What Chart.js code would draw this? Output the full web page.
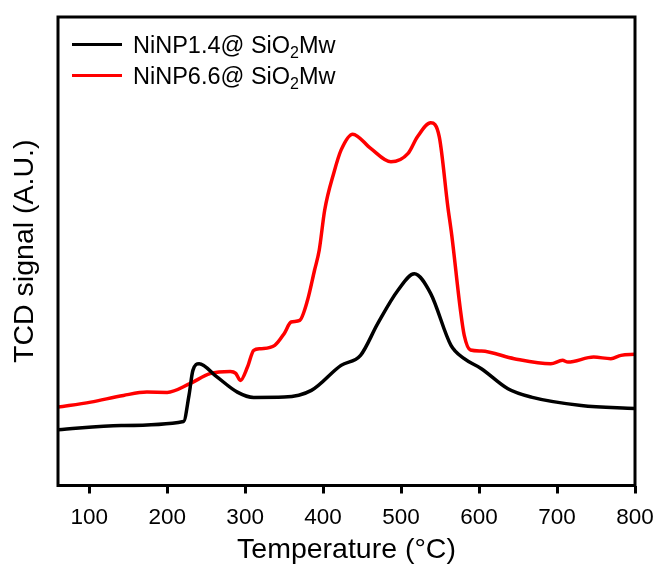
<!DOCTYPE html>
<html>
<head>
<meta charset="utf-8">
<script src="https://cdn.jsdelivr.net/npm/chart.js@4/dist/chart.umd.min.js"></script>
<style>
  html, body { margin: 0; padding: 0; background: #fff; }
  #wrap { position: relative; width: 656px; height: 564px; }
  #c { position: absolute; left: 0; top: 0; }
  .leg { position: absolute; font-family: "Liberation Sans", Arial, sans-serif; font-size: 23.5px; color: #000; white-space: nowrap; line-height: 1; }
  .leg sub { font-size: 16px; vertical-align: -5px; line-height: 0; }
  .sw { position: absolute; height: 3px; width: 50px; }
</style>
</head>
<body>
<div id="wrap">
  <canvas id="c" width="656" height="564"></canvas>
  <div class="sw" style="left:72px; top:43px; background:#000;"></div>
  <div class="leg" style="left:133px; top:34px;">NiNP1.4@ SiO<sub>2</sub>Mw</div>
  <div class="sw" style="left:72px; top:74px; background:#ff0000;"></div>
  <div class="leg" style="left:133px; top:65px;">NiNP6.6@ SiO<sub>2</sub>Mw</div>
</div>
<script>
// Series 1: NiNP1.4@SiO2Mw (black)
const tempA = [60, 141, 221, 228, 233, 241, 263, 290, 311, 350, 385, 423, 448, 470, 496, 517, 538, 564, 581, 603, 637, 667, 731, 800];
const signalA = [55.7, 60, 64, 90, 115, 121.7, 109, 93.3, 88, 88.3, 95, 120, 130, 161.7, 195, 211.5, 191.7, 140, 126.7, 116.7, 96.7, 88.3, 80, 77];

// Series 2: NiNP6.6@SiO2Mw (red)
const tempB = [60, 102, 144, 174, 200, 229, 255, 281, 288, 294, 303, 311, 320, 338, 350, 359, 370, 380, 389, 395, 402, 414, 423, 438, 461, 487, 509, 521, 538, 549, 560, 565, 576, 581, 589, 603, 645, 692, 707, 714, 747, 769, 782, 800];
const signalB = [78.3, 83.3, 90, 93.3, 93, 101.7, 111.7, 114, 112, 105, 118.3, 135, 136.7, 140, 151.7, 163.3, 165, 185, 215, 235, 275, 313, 335, 351, 336.7, 323.3, 331.7, 348.3, 362.3, 348.3, 278.3, 250, 176, 150, 135.3, 134.3, 126.7, 121.7, 125, 123.3, 128.3, 126.7, 130, 131];

const xTicks = [100, 200, 300, 400, 500, 600, 700, 800];
const labels = ['NiNP1.4@ SiO2Mw', 'NiNP6.6@ SiO2Mw'];

const toPts = (xs, ys) => xs.map((x, i) => ({ x: x, y: ys[i] }));

const frame = {
  id: 'frame',
  afterDraw(chart) {
    const a = chart.chartArea, ctx = chart.ctx;
    ctx.save();
    ctx.strokeStyle = '#000';
    ctx.lineWidth = 3;
    ctx.strokeRect(a.left, a.top, a.right - a.left, a.bottom - a.top);
    ctx.restore();
  }
};

const font = '"Liberation Sans", Arial, sans-serif';

new Chart(document.getElementById('c'), {
  type: 'scatter',
  data: {
    datasets: [
      { label: labels[0], data: toPts(tempA, signalA), showLine: true, borderColor: '#000000', borderWidth: 3.5, pointRadius: 0, cubicInterpolationMode: 'monotone' },
      { label: labels[1], data: toPts(tempB, signalB), showLine: true, borderColor: '#ff0000', borderWidth: 3.5, pointRadius: 0, cubicInterpolationMode: 'monotone' }
    ]
  },
  options: {
    responsive: false,
    animation: false,
    layout: { padding: { left: 4, right: 0, top: 17, bottom: 0 } },
    plugins: { legend: { display: false }, tooltip: { enabled: false } },
    scales: {
      x: {
        type: 'linear', min: 60, max: 800,
        afterBuildTicks: (s) => { s.ticks = xTicks.map(v => ({ value: v })); },
        afterFit: (s) => { s.paddingRight = 21; },
        border: { display: false },
        grid: { drawOnChartArea: false, drawTicks: true, tickLength: 8, tickWidth: 3, color: '#000', lineWidth: 3 },
        ticks: { color: '#000', font: { family: font, size: 22.5 }, padding: 11, maxRotation: 0 },
        title: { display: true, text: 'Temperature (°C)', color: '#000', font: { family: font, size: 28.5, lineHeight: 1 }, padding: { top: -7, bottom: 0 } }
      },
      y: {
        min: 0, max: 468,
        border: { display: false },
        grid: { display: false, drawTicks: false },
        ticks: { display: false },
        title: { display: true, text: 'TCD signal (A.U.)', color: '#000', font: { family: font, size: 28.5, lineHeight: 1.2 }, padding: { top: 3.9, bottom: 15.9 } }
      }
    }
  },
  plugins: [frame]
});
</script>
</body>
</html>
